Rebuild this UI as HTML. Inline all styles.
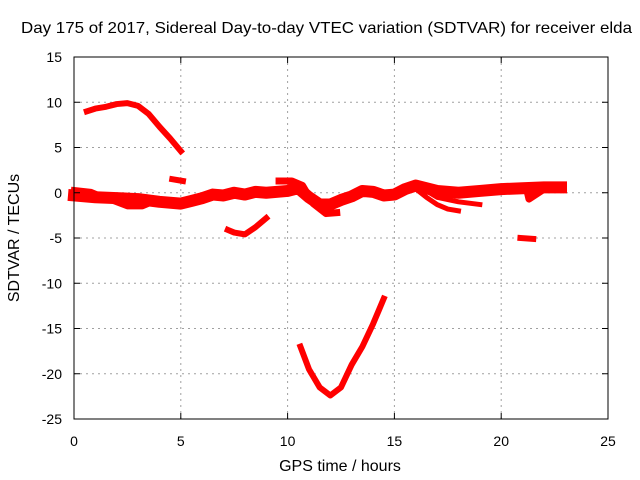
<!DOCTYPE html>
<html><head><meta charset="utf-8"><style>
body{margin:0;background:#fff}
svg{display:block;font-family:"Liberation Sans",sans-serif;font-size:14px}
</style></head><body>
<svg id="chart" width="640" height="480" viewBox="0 0 640 480">
<rect width="640" height="480" fill="#fff"/>
<text x="21" y="33" textLength="611" lengthAdjust="spacingAndGlyphs" style="font-size:16px">Day 175 of 2017, Sidereal Day-to-day VTEC variation (SDTVAR) for receiver elda</text>
<g id="grid"></g>
<g id="marks"></g>
<rect x="74" y="57" width="534" height="362" fill="none" stroke="#000" stroke-width="1"/>
<g id="axes"></g>
<text x="340" y="471" text-anchor="middle" style="font-size:16px">GPS time / hours</text>
<text transform="translate(19,238) rotate(-90)" text-anchor="middle" style="font-size:16px">SDTVAR / TECUs</text>
</svg>
<script>
const xTicks=[0,5,10,15,20,25];
const yTicks=[15,10,5,0,-5,-10,-15,-20,-25];
const segTop=[[0.6,9.0],[1,9.3],[1.5,9.5],[2,9.8],[2.5,9.9],[3,9.6],[3.5,8.7],[4,7.3],[4.5,6.0],[5,4.6]];
const segSmall=[[4.6,1.5],[5.1,1.3]];
const segDip=[[7.2,-4.1],[7.5,-4.4],[8,-4.6],[8.5,-3.8],[9,-2.8]];
const segV=[[10.6,-17],[11,-19.5],[11.5,-21.5],[12,-22.4],[12.5,-21.5],[13,-19],[13.5,-17],[14,-14.5],[14.5,-11.7]];
const segPatch=[[20.9,-5.0],[21.5,-5.1]];
const segMain=[[0,-0.3],[1,-0.5],[2,-0.6],[3,-0.7],[4,-1.0],[5,-1.2],[5.5,-0.9],[6,-0.6],[6.5,-0.2],[7,-0.3],[7.5,0],[8,-0.2],[8.5,0.1],[9,0],[10,0.2],[10.5,0.5],[11,-0.5],[11.5,-1.3],[12,-1.3],[12.5,-0.8],[13,-0.4],[13.5,0.2],[14,0.1],[14.5,-0.3],[15,-0.2],[15.5,0.4],[16,0.8],[17,0.2],[18,0],[19,0.2],[20,0.4],[21,0.5],[22,0.6],[22.8,0.6]];
const segBranch1=[[0,0.3],[0.8,0.1],[1.5,-0.6],[2.5,-1.5],[3.2,-1.5],[3.5,-1.2]];
const segBranch2=[[9.6,1.3],[10.2,1.3],[10.7,0.8],[11.2,-1.2],[11.8,-2.3],[12.3,-2.2]];
const segBranch3=[[15.8,0.8],[16.5,-0.5],[17,-1.3],[17.5,-1.8],[18,-2.0]];
const segBranch4=[[16.3,0.5],[17,-0.5],[18,-1.0],[19,-1.3]];
const segBranch5=[[21.2,0.3],[21.3,-0.7],[22.2,0.7],[22.8,0.4]];
const X=v=>74+v*534/25, Y=v=>57+(15-v)*362/40;
const NS='http://www.w3.org/2000/svg';
const grid=document.getElementById('grid'),axes=document.getElementById('axes'),marks=document.getElementById('marks');
function el(t,a,p){const e=document.createElementNS(NS,t);for(const k in a)e.setAttribute(k,a[k]);p.appendChild(e);return e;}
xTicks.forEach(v=>{
 if(v>0&&v<25){const g=el('line',{x1:X(v),x2:X(v),y1:57,y2:419,stroke:'#a0a0a0','stroke-dasharray':'2,4'},grid);
 
 }
 const t=el('line',{x1:X(v),x2:X(v),y1:419,y2:413,stroke:'#000'},axes);
 
 
 const t2=el('line',{x1:X(v),x2:X(v),y1:57,y2:63,stroke:'#000'},axes);
 
 
 const l=el('text',{x:X(v),y:446,'text-anchor':'middle'},axes);l.textContent=v;
 
 
});
yTicks.forEach(v=>{
 if(v<15&&v>-25){const g=el('line',{x1:74,x2:608,y1:Y(v),y2:Y(v),stroke:'#a0a0a0','stroke-dasharray':'2,4'},grid);
 
 }
 const t=el('line',{x1:74,x2:80,y1:Y(v),y2:Y(v),stroke:'#000'},axes);
 
 
 const t2=el('line',{x1:608,x2:602,y1:Y(v),y2:Y(v),stroke:'#000'},axes);
 
 
 const l=el('text',{x:62,y:Y(v)+5,'text-anchor':'end'},axes);l.textContent=v;
 
 
});
function draw(seg,w,name){
 const p=el('polyline',{points:seg.map(d=>X(d[0])+','+Y(d[1])).join(' '),fill:'none',stroke:'#ff0000','stroke-width':w,'stroke-linejoin':'round','stroke-linecap':'square'},marks);
 
 
}
draw(segMain,12,'main-band');
draw(segBranch1,6,'branch-early');
draw(segBranch2,7,'branch-midday');
draw(segBranch3,5,'branch-afternoon-a');
draw(segBranch4,5,'branch-afternoon-b');
draw(segBranch5,7,'branch-late');
draw(segTop,6,'arc-high');
draw(segSmall,6,'segment-small');
draw(segDip,6,'segment-dip');
draw(segV,6,'segment-v');
draw(segPatch,6,'segment-patch');
</script>
</body></html>
